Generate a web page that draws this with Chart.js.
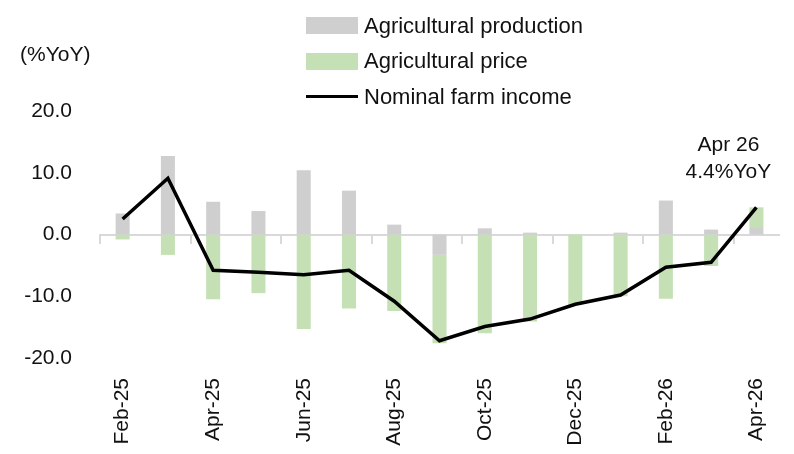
<!DOCTYPE html>
<html>
<head>
<meta charset="utf-8">
<script src="https://cdn.jsdelivr.net/npm/chart.js@4.4.1/dist/chart.umd.min.js"></script>
<style>
  body { margin: 0; background: #fff; font-family: "Liberation Sans", Arial, sans-serif; color: #111; }
  #wrap { position: relative; width: 794px; height: 454px; }
  #unit { position: absolute; left: 20px; top: 42px; font-size: 21px; line-height: 24px; }
  #legend { position: absolute; left: 306px; top: 8px; font-size: 22px; }
  .row { display: flex; align-items: center; height: 35.5px; }
  .sw { width: 52px; height: 17px; margin-right: 6px; }
  .ln { width: 52px; height: 3px; background: #000; margin-right: 6px; }
</style>
</head>
<body>
<div id="wrap">
  <canvas id="chart" width="794" height="454"></canvas>
  <div id="unit">(%YoY)</div>
  <div id="legend"></div>
</div>
<script>
const meses = ["Feb-25", "Mar-25", "Apr-25", "May-25", "Jun-25", "Jul-25", "Aug-25", "Sep-25",
               "Oct-25", "Nov-25", "Dec-25", "Jan-26", "Feb-26", "Mar-26", "Apr-26"];
const produccion = [3.4, 12.7, 5.3, 3.8, 10.4, 7.1, 1.6, -3.3, 1.0, 0.3, 0.0, 0.3, 5.5, 0.8, 1.2];
const precio = [-0.8, -3.3, -10.5, -9.5, -15.3, -12.0, -12.4, -14.3, -16.0, -14.1, -11.4, -10.0, -10.4, -5.1, 3.2];
const ingreso = [2.5, 9.1, -5.8, -6.1, -6.5, -5.8, -10.8, -17.2, -14.9, -13.7, -11.3, -9.8, -5.3, -4.5, 4.4];
const etiquetasY = [-20, -10, 0, 10, 20];
const nota = ["Apr 26", "4.4%YoY"];

const colorGris = '#d0cfd0';
const colorVerde = '#c5e0b4';
const fuente = '"Liberation Sans", Arial, sans-serif';

// leyenda en html, tres filas
const leyenda = document.getElementById("legend");
[["Agricultural production", colorGris, false],
 ["Agricultural price", colorVerde, false],
 ["Nominal farm income", '#000', true]].forEach(([txt, col, linea]) => {
    const row = document.createElement("div");
    row.className = "row";
    const m = document.createElement("div");
    m.className = linea ? "ln" : "sw";
    if (!linea) m.style.background = col;
    row.appendChild(m);
    const t = document.createElement("span");
    t.textContent = txt;
    row.appendChild(t);
    leyenda.appendChild(row);
});

const notaPlugin = {
    id: 'nota',
    afterDatasetsDraw(chart) {
        const meta = chart.getDatasetMeta(2);
        const p = meta.data[meta.data.length - 1];
        const ctx = chart.ctx;
        ctx.save();
        ctx.font = '21px ' + fuente;
        ctx.fillStyle = '#111';
        ctx.textAlign = 'center';
        ctx.textBaseline = 'middle';
        ctx.fillText(nota[0], p.x - 28, p.y - 62);
        ctx.fillText(nota[1], p.x - 28, p.y - 35);
        ctx.restore();
    }
};

new Chart(document.getElementById('chart'), {
    data: {
        labels: meses,
        datasets: [
            { type: 'bar', label: 'Agricultural production', data: produccion, backgroundColor: colorGris,
              xAxisID: 'x', barPercentage: 0.31, categoryPercentage: 1, order: 2 },
            { type: 'bar', label: 'Agricultural price', data: precio, backgroundColor: colorVerde,
              xAxisID: 'x', barPercentage: 0.31, categoryPercentage: 1, order: 2 },
            { type: 'line', label: 'Nominal farm income', data: ingreso, borderColor: '#000', borderWidth: 3.5,
              xAxisID: 'x', pointRadius: 0, tension: 0, borderJoinStyle: 'miter', order: 1 }
        ]
    },
    options: {
        responsive: false,
        animation: false,
        layout: { padding: { top: 111, right: 12, left: 0, bottom: 0 } },
        plugins: { legend: { display: false }, tooltip: { enabled: false } },
        scales: {
            x: {
                stacked: true,
                grid: { display: false },
                border: { display: false },
                ticks: {
                    autoSkip: false, minRotation: 90, maxRotation: 90, padding: 12,
                    color: '#111', font: { family: fuente, size: 21 },
                    callback: (v, i) => i % 2 === 0 ? meses[i] : ''
                },
                afterFit: s => { s.height = 96; }
            },
            x2: {
                type: 'category',
                position: { y: 0 },
                offset: true,
                grid: {
                    offset: true, drawOnChartArea: false, tickLength: 8, lineWidth: 2,
                    color: c => c.index % 2 === 0 ? '#d9d9d9' : 'rgba(0,0,0,0)'
                },
                border: { display: true, color: '#d9d9d9', width: 2 },
                ticks: { display: false }
            },
            y: {
                stacked: true,
                min: -20, max: 20,
                afterBuildTicks: s => { s.ticks = etiquetasY.map(v => ({ value: v })); },
                grid: { display: false, drawTicks: false },
                border: { display: false },
                ticks: {
                    padding: 28, color: '#111', font: { family: fuente, size: 21 },
                    callback: v => v.toFixed(1)
                },
                afterFit: s => { s.width = 100; }
            }
        }
    },
    plugins: [notaPlugin]
});
</script>
</body>
</html>
